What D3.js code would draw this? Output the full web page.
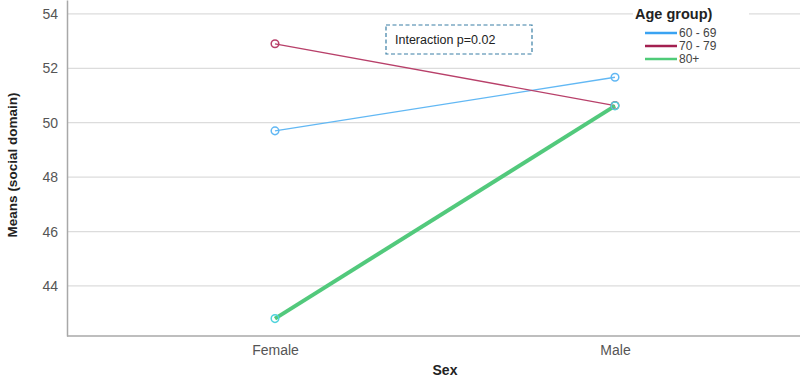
<!DOCTYPE html>
<head>
<meta charset="utf-8">
<title>Means plot</title>
<style>
body { margin: 0; background: #fff; }
text { font-family: "Liberation Sans", Arial, sans-serif; }
</style>
</head>
<body>
<script src="https://cdn.jsdelivr.net/npm/d3@7/dist/d3.min.js"></script>
<script>
// dane
var sex = ["Female", "Male"];
var groups = ["60 - 69", "70 - 79", "80+"];
var g6069 = [49.70, 51.67];
var g7079 = [52.90, 50.63];
var g80 = [42.80, 50.62];
var yTicks = [44, 46, 48, 50, 52, 54];

var width = 800, height = 379;
var mLeft = 67, mBottom = 336, mRight = 800, mTop = 0;

var colors = ["#62b8f4", "#b8406a", "#52c97c"];
var markerColors = ["#62b8f4", "#b8406a", "#4fd3dc"];
var widths = [1.3, 1.3, 4];

var svg = d3.select("body").append("svg")
  .attr("width", width)
  .attr("height", height);

var x = d3.scalePoint().domain(sex).range([275, 615]);
var y = d3.scaleLinear().domain([42.16, 54.51]).range([mBottom, mTop]);

// siatka
svg.selectAll("line.grid")
  .data(yTicks)
  .enter()
  .append("line")
  .attr("class", "grid")
  .attr("x1", mLeft).attr("x2", mRight)
  .attr("y1", function(d) { return y(d); })
  .attr("y2", function(d) { return y(d); })
  .style("stroke", "#dcdcdc")
  .style("stroke-width", 1.2);

// osie
var yAxis = svg.append("g")
  .attr("transform", "translate(" + mLeft + ",0)")
  .call(d3.axisLeft(y).tickValues(yTicks).tickSize(0).tickPadding(9));
yAxis.select(".domain").style("stroke", "#a8a8a8").style("stroke-width", 1.5);
yAxis.selectAll("text").style("font-size", "14px").style("fill", "#555");

var xAxis = svg.append("g")
  .attr("transform", "translate(0," + mBottom + ")")
  .call(d3.axisBottom(x).tickSize(0).tickPadding(9));
xAxis.select(".domain").remove();
xAxis.selectAll("text").style("font-size", "14px").style("fill", "#555");
svg.append("line")
  .attr("x1", mLeft).attr("x2", mRight)
  .attr("y1", mBottom).attr("y2", mBottom)
  .style("stroke", "#a8a8a8").style("stroke-width", 1.5);

// tytuly osi
svg.append("text")
  .attr("transform", "translate(17," + 165 + ") rotate(-90)")
  .attr("text-anchor", "middle")
  .style("font-family", "'Liberation Sans Narrow', 'Liberation Sans', sans-serif")
  .style("font-weight", "bold")
  .style("font-size", "13.5px")
  .style("fill", "#222")
  .text("Means (social domain)");

svg.append("text")
  .attr("x", 445).attr("y", 375)
  .attr("text-anchor", "middle")
  .style("font-weight", "bold")
  .style("font-size", "14px")
  .style("fill", "#222")
  .text("Sex");

// serie
var series = [g6069, g7079, g80];
var line = d3.line()
  .x(function(d, i) { return x(sex[i]); })
  .y(function(d) { return y(d); });

series.forEach(function(s, k) {
  svg.append("path")
    .attr("d", line(s))
    .style("fill", "none")
    .style("stroke", colors[k])
    .style("stroke-width", widths[k]);
});
series.forEach(function(s, k) {
  svg.selectAll("circle.s" + k)
    .data(s)
    .enter()
    .append("circle")
    .attr("class", "s" + k)
    .attr("cx", function(d, i) { return x(sex[i]); })
    .attr("cy", function(d) { return y(d); })
    .attr("r", 3.8)
    .style("fill", "none")
    .style("stroke", markerColors[k])
    .style("stroke-width", 1.5);
});

// ramka z interakcja
svg.append("rect")
  .attr("x", 386).attr("y", 25)
  .attr("width", 146).attr("height", 29)
  .style("fill", "#fff")
  .style("stroke", "#3a7fa5")
  .style("stroke-width", 1.2)
  .style("stroke-dasharray", "4,2.5");
svg.append("text")
  .attr("x", 395).attr("y", 44)
  .style("font-size", "12.5px")
  .style("fill", "#222")
  .text("Interaction p=0.02");

// legenda
svg.append("rect")
  .attr("x", 633).attr("y", 6)
  .attr("width", 116).attr("height", 16)
  .style("fill", "#fff");
svg.append("text")
  .attr("x", 635).attr("y", 19)
  .style("font-weight", "bold")
  .style("font-size", "14.5px")
  .style("fill", "#222")
  .text("Age group)");

var legend = svg.selectAll("g.leg")
  .data(groups)
  .enter()
  .append("g")
  .attr("class", "leg")
  .attr("transform", function(d, i) { return "translate(645," + (33 + i * 13) + ")"; });
legend.append("line")
  .attr("x1", 0).attr("x2", 32)
  .style("stroke", function(d, i) { return ["#3aa3f2", "#a32050", "#4fcb78"][i]; })
  .style("stroke-width", 2.5);
legend.append("text")
  .attr("x", 34).attr("y", 4)
  .style("font-size", "12px")
  .style("fill", "#444")
  .text(function(d) { return d; });
</script>
</body>
</html>
